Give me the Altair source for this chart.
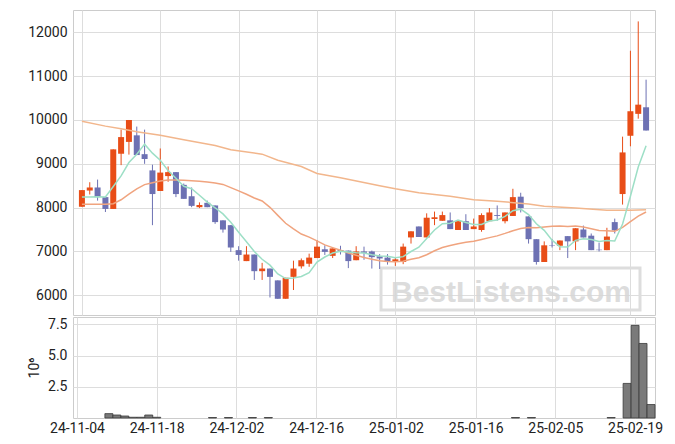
import altair as alt
import pandas as pd

# ---- data ----
opens = [8020, 8390, 8460, 8240, 7970, 9230, 9500, 9650, 9220, 8850,
         8380, 8720, 8810, 8520, 8260, 8010, 8110, 8050, 7710, 7600,
         7030, 6780, 6930, 6550, 6610, 6340, 5920, 6420, 6660, 6720,
         6850, 7050, 6900, 7030, 7020, 6800, 7000, 7000, 6890, 6860,
         6760, 6760, 7320, 7570, 7320, 7740, 7700, 7710, 7490, 7690,
         7510, 7490, 7690, 7830, 7690, 7810, 8250, 7800, 7280, 6760,
         7140, 7130, 7350, 7230, 7500, 7360, 7040, 7030, 7670, 8310,
         9640, 10140, 10290]
highs = [8400, 8580, 8640, 8240, 9330, 9780, 10000, 9850, 9780, 8980,
         9350, 8940, 8810, 8550, 8460, 8120, 8160, 8050, 7710, 7600,
         7120, 7120, 6930, 6740, 6610, 6340, 6400, 6790, 6840, 6950,
         7260, 7140, 7070, 7130, 7020, 7120, 7110, 7020, 6940, 6940,
         6850, 7180, 7460, 7570, 7870, 7910, 7910, 7890, 7690, 7850,
         7750, 7870, 7990, 8050, 7890, 8430, 8340, 7800, 7280, 7230,
         7280, 7250, 7350, 7530, 7590, 7410, 7200, 7540, 7750, 9620,
         11580, 12250, 10920]
lows = [8020, 8300, 8160, 7900, 7970, 8970, 9210, 9200, 9000, 7600,
        8380, 8590, 8240, 8200, 8010, 7990, 8010, 7630, 7430, 6990,
        6790, 6780, 6350, 6350, 5950, 5920, 5920, 6120, 6610, 6650,
        6850, 6920, 6850, 6930, 6620, 6800, 6810, 6610, 6600, 6700,
        6670, 6710, 7180, 7330, 7320, 7600, 7700, 7510, 7490, 7490,
        7510, 7450, 7690, 7700, 7640, 7810, 7890, 7180, 6700, 6760,
        7090, 7030, 6850, 7030, 7320, 7030, 7000, 7030, 7410, 8070,
        9400, 10030, 9760]
closes = [8400, 8460, 8240, 7970, 9330, 9610, 10000, 9200, 9110, 8310,
          8800, 8810, 8310, 8200, 8040, 8060, 8010, 7670, 7500, 7090,
          6920, 6930, 6550, 6610, 6420, 5920, 6400, 6610, 6800, 6860,
          7110, 6990, 7070, 7000, 6780, 7000, 6970, 6870, 6840, 6770,
          6820, 7110, 7460, 7330, 7770, 7780, 7830, 7510, 7690, 7490,
          7570, 7830, 7890, 7810, 7890, 8240, 7990, 7280, 6760, 7140,
          7130, 7250, 7230, 7530, 7320, 7030, 7030, 7340, 7480, 9260,
          10200, 10350, 9760]
ma5 = [8240, 8240, 8250, 8245, 8481, 8724, 9030, 9220, 9449, 9244,
       9083, 8845, 8669, 8486, 8431, 8283, 8125, 7997, 7857, 7667,
       7438, 7222, 6998, 6821, 6687, 6488, 6381, 6393, 6430, 6518,
       6756, 6873, 6964, 7006, 6990, 6969, 6966, 6927, 6894, 6891,
       6855, 6882, 6999, 7097, 7298, 7490, 7633, 7644, 7715, 7659,
       7618, 7618, 7694, 7718, 7799, 7931, 7965, 7842, 7631, 7481,
       7258, 7109, 7100, 7254, 7291, 7271, 7226, 7248, 7237, 7625,
       8261, 8926, 9410]
ma20 = [8080, 8080, 8080, 8080, 8090, 8180, 8310, 8430, 8525, 8570,
        8610, 8630, 8630, 8625, 8615, 8600, 8585, 8560, 8530, 8456,
        8382, 8306, 8221, 8153, 8007, 7823, 7643, 7514, 7398, 7326,
        7241, 7150, 7088, 7028, 6966, 6913, 6861, 6821, 6788, 6772,
        6767, 6776, 6821, 6857, 6925, 7017, 7089, 7134, 7178, 7210,
        7233, 7275, 7316, 7356, 7412, 7474, 7525, 7545, 7541, 7559,
        7574, 7581, 7570, 7580, 7557, 7520, 7480, 7471, 7460, 7549,
        7680, 7807, 7900]
ma_long_idx = [0, 3, 5, 7, 10, 13, 17, 19, 23, 25, 28, 30, 33, 38, 40,
               43, 47, 50, 53, 57, 59, 63, 67, 70, 72]
ma_long = [9970, 9860, 9800, 9730, 9650, 9550, 9420, 9320, 9220, 9080,
           8940, 8780, 8680, 8500, 8430, 8340, 8260, 8180, 8145, 8085,
           8030, 7990, 7940, 7940, 7950]
volume_idx = [4, 5, 6, 7, 8, 9, 10, 17, 19, 22, 24, 55, 57, 67, 69, 70, 71, 72]
volumes = [0.35, 0.24, 0.16, 0.06, 0.06, 0.24, 0.06, 0.04, 0.04, 0.04,
           0.04, 0.04, 0.04, 0.04, 2.77, 7.42, 5.97, 1.08]   # in 10^6
tick_idx = [0, 10, 20, 30, 40, 50, 60, 70]
tick_labels = ["24-11-04", "24-11-18", "24-12-02", "24-12-16",
               "25-01-02", "25-01-16", "25-02-05", "25-02-19"]

UP = "#e84d17"
DOWN = "#6d71b3"
FONT = "Roboto"

df = pd.DataFrame({"i": list(range(len(closes))), "o": opens, "h": highs,
                   "l": lows, "c": closes, "ma5": ma5, "ma20": ma20})
dl = pd.DataFrame({"i": ma_long_idx, "v": ma_long})
dv = pd.DataFrame({"i": volume_idx, "v": volumes})

xscale = alt.Scale(domain=[-0.5, 72.5], nice=False, zero=False)
top_xaxis = alt.Axis(values=tick_idx, labels=False, ticks=False, domain=False,
                     grid=True, title=None)
label_expr = "[" + ",".join("'%s'" % t for t in tick_labels) + "][round(datum.value/10)]"
bot_xaxis = alt.Axis(values=tick_idx, labelExpr=label_expr, ticks=False,
                     domain=False, grid=True, title=None, labelPadding=3)
yscale = alt.Scale(domain=[5550, 12510], nice=False, zero=False)
yaxis = alt.Axis(values=[6000, 7000, 8000, 9000, 10000, 11000, 12000],
                 ticks=False, domain=False, grid=True, title=None,
                 labelPadding=6, format="d")

color = alt.condition("datum.c >= datum.o", alt.value(UP), alt.value(DOWN))
base = alt.Chart(df)
X = alt.X("i:Q", scale=xscale, axis=top_xaxis)

wicks = base.mark_rule(strokeWidth=1).encode(
    x=X, y=alt.Y("l:Q", scale=yscale, axis=yaxis), y2="h:Q", color=color)
bodies = base.mark_bar(size=6).encode(
    x=alt.X("i:Q", scale=xscale), y=alt.Y("o:Q", scale=yscale), y2="c:Q", color=color)
l5 = base.mark_line(color="#9ddfc6", strokeWidth=1.5).encode(
    x=alt.X("i:Q", scale=xscale), y=alt.Y("ma5:Q", scale=yscale))
l20 = base.mark_line(color="#f0a47f", strokeWidth=1.5).encode(
    x=alt.X("i:Q", scale=xscale), y=alt.Y("ma20:Q", scale=yscale))
llong = alt.Chart(dl).mark_line(color="#f2b68c", strokeWidth=1.5).encode(
    x=alt.X("i:Q", scale=xscale), y=alt.Y("v:Q", scale=yscale))

wm = pd.DataFrame({"t": ["BestListens.com"]})
wm_box = alt.Chart(wm).mark_rect(fillOpacity=0, stroke="#dddddd", strokeWidth=3).encode(
    x=alt.value(308), x2=alt.value(567), y=alt.value(258), y2=alt.value(300))
wm_text = alt.Chart(wm).mark_text(font="Liberation Sans", fontWeight="bold", fontSize=30,
                                  color="#d6d6d6", opacity=0.85, align="center",
                                  baseline="alphabetic").encode(
    x=alt.value(438), y=alt.value(292), text="t:N")

top = alt.layer(wm_box, wm_text, wicks, bodies, llong, l20, l5).properties(
    width=582, height=305)

vol = alt.Chart(dv).transform_calculate(
    x0="datum.i - 0.5", x1="datum.i + 0.5"
).mark_rect(color="#7a7a7a", stroke="#3a3a3a", strokeWidth=0.8).encode(
    x=alt.X("x0:Q", scale=xscale, axis=bot_xaxis),
    x2="x1:Q",
    y=alt.Y("v:Q", scale=alt.Scale(domain=[0, 8.09], nice=False),
            axis=alt.Axis(values=[2.5, 5.0, 7.5], format=".1f", ticks=False,
                          domain=False, grid=True, title="10⁶", labelPadding=6,
                          titlePadding=6, minExtent=20)),
    y2=alt.datum(0),
).properties(width=582, height=101)

chart = alt.vconcat(top, vol, spacing=0).properties(
    padding={"left": 27, "top": 9, "right": 0, "bottom": 0},
    background="white"
).configure_view(stroke="#cccccc", strokeWidth=1).configure_axis(
    labelFont=FONT, labelFontSize=14, labelColor="#222222",
    titleFont=FONT, titleFontSize=14, titleFontWeight="normal", titleColor="#222222",
    gridColor="#dddddd", gridWidth=1
)

chart.save("out.html", embed_options={"renderer": "svg", "actions": False})
